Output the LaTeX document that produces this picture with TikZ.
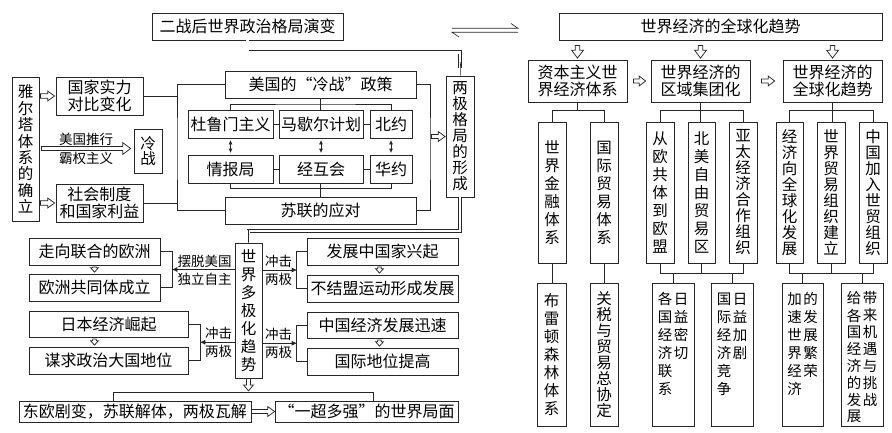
\documentclass[tikz,border=0pt]{standalone}
\usepackage{fontspec}
\setmainfont{Noto Sans CJK SC}
\usetikzlibrary{calc,arrows.meta}
\newcommand\mybox[6][]{\node[box,#1,minimum width={#5-#3},minimum height={#6-#4}] (#2) at ({(#3+#5)/2},{(#4+#6)/2})}
\newcommand\twocol[2]{\begin{tabular}[t]{@{}c@{}}#1\end{tabular}\hspace{1.5pt}\begin{tabular}[t]{@{}c@{}}#2\end{tabular}}
\def\holHL{6pt}\def\holHW{4.5pt}\def\holSW{1.8pt}
\tikzset{
  ln/.style={draw=black!85, line width=0.75pt},
  box/.style={ln, rectangle, inner sep=0pt, align=center, text=black, font=\fontsize{16}{17}\selectfont},
  vt/.style={font=\fontsize{15.5}{#1}\selectfont},
  vlab/.style={anchor=north, inner sep=0pt, text=black, font=\fontsize{14.5}{#1}\selectfont},
  lab/.style={inner sep=0pt, text=black, font=\fontsize{13.5}{15}\selectfont},
  dbl/.style={draw=black!85, line width=0.75pt, double=white, double distance=2.4pt},
  sar/.style={-{Triangle[length=5pt,width=4.5pt]}},
  dar/.style={{Triangle[length=4pt,width=3.5pt]}-{Triangle[length=4pt,width=3.5pt]}},
  holl/.code={\def\holHL{#1}},
  holw/.code={\def\holHW{#1}},
  hols/.code={\def\holSW{#1}},
  hol/.style={to path={
    ($(\tikztostart)!\holSW!90:(\tikztotarget)$)
    -- ($(\tikztotarget)!\holHL!(\tikztostart)!\holSW!-90:(\tikztostart)$)
    -- ($(\tikztotarget)!\holHL!(\tikztostart)!\holHW!-90:(\tikztostart)$)
    -- (\tikztotarget)
    -- ($(\tikztotarget)!\holHL!(\tikztostart)!\holHW!90:(\tikztostart)$)
    -- ($(\tikztotarget)!\holHL!(\tikztostart)!\holSW!90:(\tikztostart)$)
    -- ($(\tikztostart)!\holSW!-90:(\tikztotarget)$)
    -- cycle}},
  holhead/.style={to path={
    ($(\tikztotarget)!\holHL!(\tikztostart)!\holSW!-90:(\tikztostart)$)
    -- ($(\tikztotarget)!\holHL!(\tikztostart)!\holHW!-90:(\tikztostart)$)
    -- (\tikztotarget)
    -- ($(\tikztotarget)!\holHL!(\tikztostart)!\holHW!90:(\tikztostart)$)
    -- ($(\tikztotarget)!\holHL!(\tikztostart)!\holSW!90:(\tikztostart)$)}},
}
\begin{document}
\begin{tikzpicture}[x=1pt,y=-1pt]
\useasboundingbox[fill=white] (0,0) rectangle (892,432);
% ---------------- left half ----------------
\mybox{t1}{152}{13}{343}{40} {二战后世界政治格局演变};
\mybox[vt=16.4]{yalta}{12}{77}{39}{221} {雅\\尔\\塔\\体\\系\\的\\确\\立};
\mybox{gj}{56}{77}{143}{115} {国家实力\\对比变化};
\mybox[vt=15.5]{lz}{134}{129}{162}{173} {冷\\战};
\mybox{sh}{56}{184}{143}{222} {社会制度\\和国家利益};
\mybox{us}{225}{71}{416}{98} {美国的“冷战”政策};
\mybox{du}{188}{110}{273}{138} {杜鲁门主义};
\mybox{ms}{279}{110}{363}{138} {马歇尔计划};
\mybox{by}{370}{110}{412}{138} {北约};
\mybox{qb}{188}{155}{273}{183} {情报局};
\mybox{jh}{279}{155}{363}{183} {经互会};
\mybox{hy}{370}{155}{412}{183} {华约};
\mybox{su}{225}{197}{416}{224} {苏联的应对};
\mybox[vt=16]{lj}{446}{76}{474}{197} {两\\极\\格\\局\\的\\形\\成};
\mybox[vt=18]{dj}{235}{243}{262}{378} {世\\界\\多\\极\\化\\趋\\势};
\mybox{eu1}{29}{238}{160}{265} {走向联合的欧洲};
\mybox{eu2}{29}{274}{160}{301} {欧洲共同体成立};
\mybox{jp1}{29}{311}{188}{337} {日本经济崛起};
\mybox{jp2}{29}{347}{188}{374} {谋求政治大国地位};
\mybox{fz}{307}{238}{458}{265} {发展中国家兴起};
\mybox{bj}{307}{275}{458}{302} {不结盟运动形成发展};
\mybox{zg}{307}{312}{458}{338} {中国经济发展迅速};
\mybox{gd}{307}{348}{458}{375} {国际地位提高};
\mybox{dou}{19}{401}{251}{422} {东欧剧变，苏联解体，两极瓦解};
\mybox{yc}{275}{401}{458}{422} {“一超多强”的世界局面};
% brackets around the cold war block
\coordinate (vl) at (177,150);
\draw[ln] (us.west) -| (vl) |- (su.west);
\draw[ln] (gj.east) -- (gj.east -| vl);
\draw[ln] (sh.east) -- (sh.east -| vl);
\coordinate (vr) at (430,150);
\draw[ln] (us.east) -| (vr) |- (su.east);
\coordinate (a2s) at ($(lj.west -| vr)+(1.5,0)$);
\coordinate (a2e) at ($(lj.west)+(-0.5,0)$);
\draw[ln,hol,holl=7pt,holw=5pt,hols=2pt] (a2s) to (a2e);
\coordinate (b1) at ($(us.south)!0.5!(us.south |- ms.north)$);
\draw[ln] (us.south) -- (us.south |- ms.north);
\draw[ln] (du.north) |- (b1) -| (by.north);
\draw[ln] (du.east) -- (ms.west);
\draw[ln] (ms.east) -- (by.west);
\draw[ln] (qb.east) -- (jh.west);
\draw[ln] (jh.east) -- (hy.west);
\coordinate (b2) at ($(su.north)!0.6!(su.north |- jh.south)$);
\draw[ln] (su.north |- jh.south) -- (su.north);
\draw[ln] (qb.south) |- (b2) -| (hy.south);
\draw[ln,dar] ($(du.south)+(0,2)$) -- ($(qb.north)+(0,-2)$);
\draw[ln,dar] ($(ms.south)+(0,2)$) -- ($(jh.north)+(0,-2)$);
\draw[ln,dar] ($(by.south)+(0,2)$) -- ($(hy.north)+(0,-2)$);
% yalta arrows
\coordinate (a3s) at ($(yalta.east |- gj.west)+(1,0)$);
\coordinate (a3e) at ($(gj.west)+(-1,0)$);
\draw[ln,hol,holl=7pt,holw=5pt,hols=2.2pt] (a3s) to (a3e);
\coordinate (a4s) at ($(yalta.east |- sh.west)+(1,0)$);
\coordinate (a4e) at ($(sh.west)+(-1,0)$);
\draw[ln,hol,holl=7pt,holw=5pt,hols=2.2pt] (a4s) to (a4e);
\coordinate (a5s) at ($(yalta.east |- lz.west)+(2,-2.5)$);
\coordinate (a5e) at ($(lz.west)+(-3,-2.5)$);
\draw[ln,hol,holl=8pt,holw=6pt,hols=2pt] (a5s) to (a5e);
\node[lab] (l1) at ($(a5s)!0.5!(a5e)+(0,-9)$) {美国推行};
\node[lab] (l2) at ($(a5s)!0.5!(a5e)+(0,10)$) {霸权主义};
% double line connectors
\coordinate (k1) at ($(t1.south)+(0,12)$);
\coordinate (k2) at ($(lj.north)+(0,-8)$);
\draw[dbl] (t1.south) -- (k1) -| (k2);
\draw[ln,holhead,holl=8pt,holw=5.5pt,hols=1.6pt] (k2) to (lj.north);
\coordinate (k3) at ($(lj.south)+(0,33.5)$);
\coordinate (k4) at ($(dj.north)+(0,-8)$);
\draw[dbl] (lj.south) -- (k3) -| (k4);
\draw[ln,holhead,holl=8pt,holw=5.5pt,hols=1.6pt] (k4) to (dj.north);
% small vertical hollow arrows
\coordinate (a6s) at ($(eu1.south)+(0,1.5)$);
\coordinate (a6e) at ($(eu2.north)+(0,-1.5)$);
\draw[ln,hol,holl=4.5pt,holw=4pt,hols=1.8pt] (a6s) to (a6e);
\coordinate (a7s) at ($(jp1.south -| eu1.south)+(0,1.5)$);
\coordinate (a7e) at ($(jp2.north -| eu1.south)+(0,-1.5)$);
\draw[ln,hol,holl=4.5pt,holw=4pt,hols=1.8pt] (a7s) to (a7e);
\coordinate (a8s) at ($(fz.south)+(-3,1.5)$);
\coordinate (a8e) at ($(bj.north)+(-3,-1.5)$);
\draw[ln,hol,holl=4.5pt,holw=4pt,hols=1.8pt] (a8s) to (a8e);
\coordinate (a9s) at ($(zg.south)+(-3,1.5)$);
\coordinate (a9e) at ($(gd.north)+(-3,-1.5)$);
\draw[ln,hol,holl=4.5pt,holw=4pt,hols=1.8pt] (a9s) to (a9e);
% brackets with impact arrows
\coordinate (kb1) at ($(eu1.east)!0.5!(eu2.east)+(12,0)$);
\draw[ln] (eu1.east) -| (kb1) |- (eu2.east);
\draw[ln,sar] (dj.west |- kb1) -- (kb1);
\node[lab] (l3) at ($(dj.west |- kb1)!0.5!(kb1)+(1,-8.5)$) {摆脱美国};
\node[lab] (l4) at ($(dj.west |- kb1)!0.5!(kb1)+(1,9.5)$) {独立自主};
\coordinate (kb2) at ($(jp1.east)!0.5!(jp2.east)+(12,0)$);
\draw[ln] (jp1.east) -| (kb2) |- (jp2.east);
\draw[ln,sar] (dj.west |- kb2) -- (kb2);
\node[lab] (l5) at ($(dj.west |- kb2)!0.5!(kb2)+(1,-9)$) {冲击};
\node[lab] (l6) at ($(dj.west |- kb2)!0.5!(kb2)+(1,9)$) {两极};
\coordinate (kb3) at ($(fz.west)!0.5!(bj.west)+(-10,0)$);
\draw[ln] (fz.west) -| (kb3) |- (bj.west);
\draw[ln,sar] (dj.east |- kb3) -- (kb3);
\node[lab] (l7) at ($(dj.east |- kb3)!0.5!(kb3)+(-1,-9)$) {冲击};
\node[lab] (l8) at ($(dj.east |- kb3)!0.5!(kb3)+(-1,9)$) {两极};
\coordinate (kb4) at ($(zg.west)!0.5!(gd.west)+(-10,0)$);
\draw[ln] (zg.west) -| (kb4) |- (gd.west);
\draw[ln,sar] (dj.east |- kb4) -- (kb4);
\node[lab] (l9) at ($(dj.east |- kb4)!0.5!(kb4)+(-1,-9)$) {冲击};
\node[lab] (l10) at ($(dj.east |- kb4)!0.5!(kb4)+(-1,9)$) {两极};
% bottom
\coordinate (k5) at ($(dj.south)+(0,14)$);
\coordinate (k5t) at ($(dj.south)+(0,12.5)$);
\draw[ln,hol,holl=6pt,holw=5pt,hols=2pt] (dj.south) to (k5t);
\coordinate (k6) at ($(dou.north)+(-22,0)$);
\coordinate (k7) at ($(yc.north)+(6.5,0)$);
\draw[ln] (k6) |- (k5) -| (k7);
\draw[ln,hol,holl=7pt,holw=5pt,hols=2pt] (dou.east) to (yc.west);
% harpoons
\coordinate (h1) at (452,28.3); \coordinate (h2) at (518,28.3); \coordinate (h3) at (511,23.5);
\draw[ln,line width=0.65pt] (h1) -- (h2) -- (h3);
\coordinate (h4) at (518,32.3); \coordinate (h5) at (452,32.3); \coordinate (h6) at (459,37);
\draw[ln,line width=0.65pt] (h4) -- (h5) -- (h6);
% ---------------- right half ----------------
\mybox{t2}{559}{13}{882}{40} {世界经济的全球化趋势};
\mybox{r1}{528}{60}{627}{102} {资本主义世\\界经济体系};
\mybox{r2}{651}{60}{750}{102} {世界经济的\\区域集团化};
\mybox{r3}{783}{60}{882}{102} {世界经济的\\全球化趋势};
\mybox[vt=18]{c11}{538}{122}{566}{263} {世\\界\\金\\融\\体\\系};
\mybox[vt=18]{c12}{590}{122}{618}{263} {国\\际\\贸\\易\\体\\系};
\mybox[vt=18]{c21}{646}{122}{674}{263} {从\\欧\\共\\体\\到\\欧\\盟};
\mybox[vt=18]{c22}{688}{122}{715}{263} {北\\美\\自\\由\\贸\\易\\区};
\mybox[vt=16]{c23}{729}{122}{757}{263} {亚\\太\\经\\济\\合\\作\\组\\织};
\mybox[vt=16]{c31}{776}{122}{803}{263} {经\\济\\向\\全\\球\\化\\发\\展};
\mybox[vt=16]{c32}{817}{122}{845}{263} {世\\界\\贸\\易\\组\\织\\建\\立};
\mybox[vt=16]{c33}{859}{122}{887}{263} {中\\国\\加\\入\\世\\贸\\组\\织};
\mybox[vt=18]{d1}{537}{283}{566}{426} {布\\雷\\顿\\森\\林\\体\\系};
\mybox[vt=16]{d2}{590}{283}{618}{426} {关\\税\\与\\贸\\易\\总\\协\\定};
\mybox{d3}{652}{283}{694}{426} {};
\mybox{d4}{711}{283}{753}{426} {};
\mybox{d5}{782}{283}{823}{426} {};
\mybox{d6}{841}{283}{883}{426} {};
\node[vlab=18] (d3t) at ($(d3.north)+(0,9)$) {\twocol{各\\国\\经\\济\\联\\系}{日\\益\\密\\切}};
\node[vlab=18] (d4t) at ($(d4.north)+(0,9)$) {\twocol{国\\际\\经\\济\\竞\\争}{日\\益\\加\\剧}};
\node[vlab=18] (d5t) at ($(d5.north)+(0,9)$) {\twocol{加\\速\\世\\界\\经\\济}{的\\发\\展\\繁\\荣}};
\node[vlab=16] (d6t) at ($(d6.north)+(0,9)$) {\twocol{给\\各\\国\\经\\济\\的\\发\\展}{带\\来\\机\\遇\\与\\挑\\战}};
% arrows from title
\coordinate (e1s) at ($(r1.north |- t2.south)+(0,5)$);
\coordinate (e1e) at ($(r1.north)+(0,-1.5)$);
\draw[ln,hol,holl=8pt,holw=6pt,hols=2.2pt] (e1s) to (e1e);
\coordinate (e2s) at ($(r2.north |- t2.south)+(0,5)$);
\coordinate (e2e) at ($(r2.north)+(0,-1.5)$);
\draw[ln,hol,holl=8pt,holw=6pt,hols=2.2pt] (e2s) to (e2e);
\coordinate (e3s) at ($(r3.north |- t2.south)+(0,5)$);
\coordinate (e3e) at ($(r3.north)+(0,-1.5)$);
\draw[ln,hol,holl=8pt,holw=6pt,hols=2.2pt] (e3s) to (e3e);
\coordinate (f1s) at ($(r1.east)+(6,0)$);
\coordinate (f1e) at ($(r2.west)+(-5,0)$);
\draw[ln,hol,holl=6.5pt,holw=5pt,hols=2pt] (f1s) to (f1e);
\coordinate (f2s) at ($(r2.east)+(11,0)$);
\coordinate (f2e) at ($(r3.west)+(-8,0)$);
\draw[ln,hol,holl=6.5pt,holw=5pt,hols=2pt] (f2s) to (f2e);
% brackets right half
\coordinate (m1) at ($(r1.south)+(0,8)$);
\draw[ln] (r1.south) -- (m1);
\draw[ln] (c11.north) |- (m1) -| (c12.north);
\coordinate (m2) at ($(r2.south)+(0,8)$);
\draw[ln] (r2.south) -- (r2.south |- c22.north);
\draw[ln] (c21.north) |- (m2) -| (c23.north);
\coordinate (m3) at ($(r3.south)+(0,8)$);
\draw[ln] (r3.south) -- (r3.south |- c32.north);
\draw[ln] (c31.north) |- (m3) -| (c33.north);
\draw[ln] (c11.south) -- (c11.south |- d1.north);
\draw[ln] (c12.south) -- (c12.south |- d2.north);
\coordinate (n2) at ($(c22.south)+(0,10)$);
\draw[ln] (c21.south) |- (n2) -| (c23.south);
\draw[ln] (c22.south) -- (n2);
\draw[ln] (d3.north) -- (d3.north |- n2);
\draw[ln] (d4.north) -- (d4.north |- n2);
\coordinate (n3) at ($(c32.south)+(0,10)$);
\draw[ln] (c31.south) |- (n3) -| (c33.south);
\draw[ln] (c32.south) -- (n3);
\draw[ln] (d5.north) -- (d5.north |- n3);
\draw[ln] (d6.north) -- (d6.north |- n3);
\end{tikzpicture}
\end{document}
